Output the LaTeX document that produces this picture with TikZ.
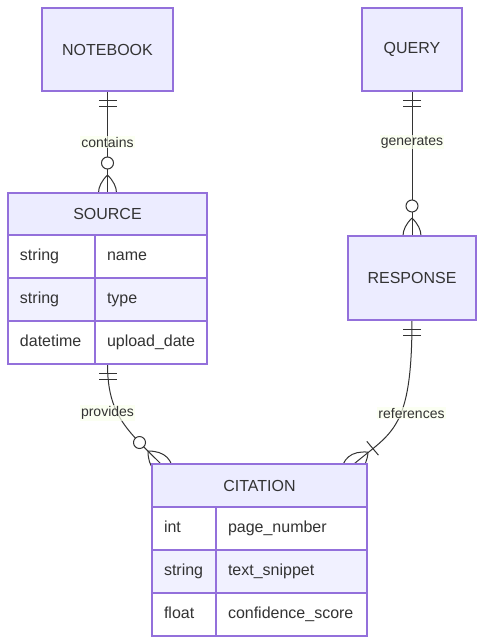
\documentclass[tikz,border=0pt]{standalone}
\usepackage{fontspec}
\setmainfont{Liberation Sans}
\usetikzlibrary{fit,backgrounds,decorations.markings}

\definecolor{erborder}{HTML}{9370DB}
\definecolor{erhead}{HTML}{ECECFF}
\definecolor{errow}{HTML}{F1F1FF}
\definecolor{erline}{HTML}{333333}
\definecolor{erlabel}{HTML}{F9FFEC}

\tikzset{
  box/.style={draw=erborder, line width=1.1pt, text=erline, inner sep=0pt, outer sep=0pt, font=\fontsize{12}{14}\selectfont},
  entity/.style={box, fill=erhead, minimum height=62.25pt},
  header/.style={box, fill=erhead, anchor=north west},
  cell/.style={box, anchor=north west, minimum height=32.25pt, inner xsep=9pt, align=left},
  rel/.style={erline, line width=0.75pt},
  rellabel/.style={fill=erlabel, fill opacity=0.7, text opacity=1, text=erline, inner sep=1pt, font=\fontsize{10.5}{12}\selectfont},
  onlyone start/.style={postaction={decorate, decoration={markings,
    mark=at position 0 with {\draw[rel] (9,-9) -- (9,9) (15,-9) -- (15,9);}}}},
  zeromany end/.style={postaction={decorate, decoration={markings,
    mark=at position 0.9999 with {\draw[rel] (-18,0) .. controls (-6,12) and (6,12) .. (18,0) .. controls (6,-12) and (-6,-12) .. (-18,0);
      \draw[rel, fill=white] (-30,0) circle (4.5pt);}}}},
  onemany end/.style={postaction={decorate, decoration={markings,
    mark=at position 0.9999 with {\draw[rel] (-18,0) .. controls (-6,12) and (6,12) .. (18,0) .. controls (6,-12) and (-6,-12) .. (-18,0);
      \draw[rel] (-24,-9) -- (-24,9);}}}},
}

\begin{document}
\begin{tikzpicture}[x=0.75pt, y=-0.75pt]
\useasboundingbox (0,0) rectangle (484,644);

\node[entity, minimum width=98.25pt] (notebook) at (107.5,49.5) {NOTEBOOK};
\node[entity, minimum width=75pt] (query) at (412,49.5) {QUERY};
\node[entity, minimum width=96pt, minimum height=63pt] (response) at (412,278) {RESPONSE};

\node[header, minimum width=149.25pt, minimum height=31.5pt] (source) at (8,193) {SOURCE};
\node[cell, fill=white, text width=47.25pt] (source-1t) at (source.south west) {\strut string};
\node[cell, fill=white, text width=66pt] (source-1n) at (source-1t.north east) {\strut name};
\node[cell, fill=errow, text width=47.25pt] (source-2t) at (source-1t.south west) {\strut string};
\node[cell, fill=errow, text width=66pt] (source-2n) at (source-2t.north east) {\strut type};
\node[cell, fill=white, text width=47.25pt] (source-3t) at (source-2t.south west) {\strut datetime};
\node[cell, fill=white, text width=66pt] (source-3n) at (source-3t.north east) {\strut upload\_date};
\node[fit=(source)(source-3n), inner sep=0pt] (source-box) {};

\node[header, minimum width=161.25pt, minimum height=32.25pt] (citation) at (152,464) {CITATION};
\node[cell, fill=white, text width=30pt] (citation-1t) at (citation.south west) {\strut int};
\node[cell, fill=white, text width=95.25pt] (citation-1n) at (citation-1t.north east) {\strut page\_number};
\node[cell, fill=errow, text width=30pt] (citation-2t) at (citation-1t.south west) {\strut string};
\node[cell, fill=errow, text width=95.25pt] (citation-2n) at (citation-2t.north east) {\strut text\_snippet};
\node[cell, fill=white, text width=30pt] (citation-3t) at (citation-2t.south west) {\strut float};
\node[cell, fill=white, text width=95.25pt] (citation-3n) at (citation-3t.north east) {\strut confidence\_score};
\node[fit=(citation)(citation-3n), inner sep=0pt] (citation-box) {};

\begin{scope}[on background layer]
\draw[rel, onlyone start, zeromany end] (notebook) -- (source);
\draw[rel, onlyone start, zeromany end] (query) -- (response);
\draw[rel, onlyone start, zeromany end] (source-box.south) .. controls +(0,51) and +(-33,-33) .. ([xshift=6.75pt]citation-box.north west);
\draw[rel, onlyone start, onemany end] (response.south) .. controls +(0,110) and +(38,-32) .. ([xshift=-9.75pt]citation-box.north east);

\node[rellabel] (contains) at (107.5,142) {contains};
\node[rellabel] (generates) at (412,142) {generates};
\node[rellabel] (provides) at (107.5,413) {provides};
\node[rellabel] (references) at (411.5,413) {references};
\end{scope}

\end{tikzpicture}
\end{document}
